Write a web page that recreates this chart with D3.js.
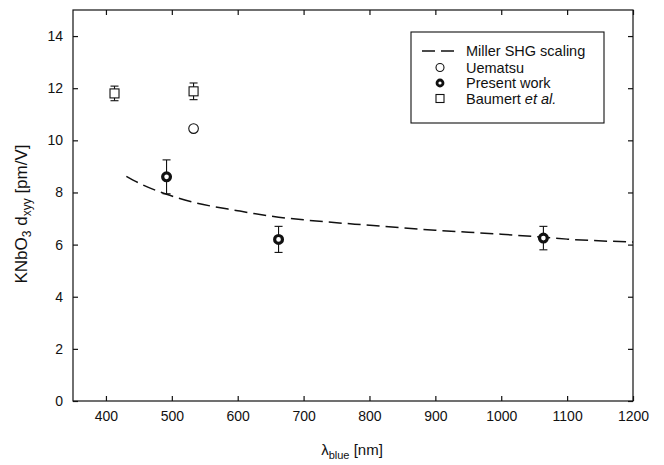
<!DOCTYPE html>
<html>
<head>
<meta charset="utf-8">
<script src="https://cdn.jsdelivr.net/npm/d3@7"></script>
<style>
  html, body { margin: 0; padding: 0; background: #fff; }
  svg { display: block; font-family: "Liberation Sans", Arial, sans-serif; }
</style>
</head>
<body>
<svg id="chart" width="664" height="465"></svg>
<script>
// Wavelength (nm) and d_xyy (pm/V) data
const presentLambda = [492, 662, 1064];
const presentD = [8.6, 6.2, 6.25];
const presentErr = [0.65, 0.5, 0.45];

const uematsuLambda = [533];
const uematsuD = [10.45];

const baumertLambda = [413, 533];
const baumertD = [11.8, 11.88];
const baumertErr = [0.28, 0.32];

// Miller's rule scaling curve
const millerLambda = [431, 450, 492, 532, 600, 662, 700, 800, 900, 1000, 1064, 1100, 1200];
const millerD = [8.62, 8.36, 7.93, 7.63, 7.3, 7.05, 6.95, 6.74, 6.55, 6.4, 6.28, 6.21, 6.1];

const xTicks = [400, 500, 600, 700, 800, 900, 1000, 1100, 1200];
const yTicks = [0, 2, 4, 6, 8, 10, 12, 14];

const svg = d3.select("#chart");
const plotLeft = 73, plotRight = 633, plotTop = 10, plotBottom = 401;

const x = d3.scaleLinear().domain([350, 1200]).range([plotLeft, plotRight]);
const y = d3.scaleLinear().domain([0, 15]).range([plotBottom, plotTop]);

const ink = "#111";

// Frame
svg.append("rect")
  .attr("x", plotLeft).attr("y", plotTop)
  .attr("width", plotRight - plotLeft).attr("height", plotBottom - plotTop)
  .attr("fill", "none").attr("stroke", ink).attr("stroke-width", 1.2);

// Axes with inward ticks, mirrored on top and right
const axB = svg.append("g").attr("transform", `translate(0,${plotBottom})`)
  .call(d3.axisBottom(x).tickValues(xTicks).tickFormat(d3.format("d"))
    .tickSizeInner(-5).tickSizeOuter(0).tickPadding(10));
const axT = svg.append("g").attr("transform", `translate(0,${plotTop})`)
  .call(d3.axisTop(x).tickValues(xTicks).tickSizeInner(-5).tickSizeOuter(0).tickFormat(""));
const axL = svg.append("g").attr("transform", `translate(${plotLeft},0)`)
  .call(d3.axisLeft(y).tickValues(yTicks).tickFormat(d3.format("d"))
    .tickSizeInner(-5).tickSizeOuter(0).tickPadding(10));
const axR = svg.append("g").attr("transform", `translate(${plotRight},0)`)
  .call(d3.axisRight(y).tickValues(yTicks).tickSizeInner(-5).tickSizeOuter(0).tickFormat(""));

[axB, axT, axL, axR].forEach(g => {
  g.select(".domain").remove();
  g.selectAll(".tick line").attr("stroke", ink).attr("stroke-width", 1.2);
  g.selectAll(".tick text").attr("fill", ink).attr("font-size", 14)
    .attr("font-family", "Liberation Sans, Arial, sans-serif");
});

// Miller scaling curve
const line = d3.line().x((d, i) => x(millerLambda[i])).y(d => y(d)).curve(d3.curveMonotoneX);
svg.append("path")
  .datum(millerD)
  .attr("d", line)
  .attr("fill", "none").attr("stroke", ink)
  .attr("stroke-width", 1.5)
  .attr("stroke-dasharray", "13,6");

// Error bars
function errorBars(lams, vals, errs) {
  const g = svg.append("g").attr("stroke", ink).attr("stroke-width", 1.1);
  lams.forEach((l, i) => {
    const cx = x(l), y1 = y(vals[i] + errs[i]), y0 = y(vals[i] - errs[i]);
    g.append("line").attr("x1", cx).attr("x2", cx).attr("y1", y1).attr("y2", y0);
    g.append("line").attr("x1", cx - 4).attr("x2", cx + 4).attr("y1", y1).attr("y2", y1);
    g.append("line").attr("x1", cx - 4).attr("x2", cx + 4).attr("y1", y0).attr("y2", y0);
  });
}
errorBars(baumertLambda, baumertD, baumertErr);
errorBars(presentLambda, presentD, presentErr);

// Baumert et al. squares
svg.append("g").selectAll("rect").data(baumertD).join("rect")
  .attr("x", (d, i) => x(baumertLambda[i]) - 4.5)
  .attr("y", d => y(d) - 4.5)
  .attr("width", 9).attr("height", 9)
  .attr("fill", "#fff").attr("stroke", ink).attr("stroke-width", 1.1);

// Uematsu open circle
svg.append("g").selectAll("circle").data(uematsuD).join("circle")
  .attr("cx", (d, i) => x(uematsuLambda[i]))
  .attr("cy", d => y(d))
  .attr("r", 4.8)
  .attr("fill", "#fff").attr("stroke", ink).attr("stroke-width", 1.1);

// Present work: thick ring
svg.append("g").selectAll("circle").data(presentD).join("circle")
  .attr("cx", (d, i) => x(presentLambda[i]))
  .attr("cy", d => y(d))
  .attr("r", 3.9)
  .attr("fill", "#fff").attr("stroke", ink).attr("stroke-width", 3.2);

// Legend
const lg = svg.append("g");
lg.append("rect").attr("x", 411).attr("y", 32).attr("width", 193).attr("height", 91)
  .attr("fill", "#fff").attr("stroke", ink).attr("stroke-width", 1.1);
const rows = [51, 67.5, 83, 98.5];
lg.append("line").attr("x1", 422).attr("x2", 458).attr("y1", rows[0]).attr("y2", rows[0])
  .attr("stroke", ink).attr("stroke-width", 1.5).attr("stroke-dasharray", "13,6");
lg.append("circle").attr("cx", 440).attr("cy", rows[1]).attr("r", 4)
  .attr("fill", "#fff").attr("stroke", ink).attr("stroke-width", 1.1);
lg.append("circle").attr("cx", 440).attr("cy", rows[2]).attr("r", 3)
  .attr("fill", "#fff").attr("stroke", ink).attr("stroke-width", 2.8);
lg.append("rect").attr("x", 436).attr("y", rows[3] - 4).attr("width", 8).attr("height", 8)
  .attr("fill", "#fff").attr("stroke", ink).attr("stroke-width", 1.1);

const labels = ["Miller SHG scaling", "Uematsu", "Present work"];
labels.forEach((t, i) => {
  lg.append("text").attr("x", 466).attr("y", rows[i] + 5)
    .attr("font-size", 14.5).attr("fill", ink).text(t);
});
const bt = lg.append("text").attr("x", 466).attr("y", rows[3] + 5)
  .attr("font-size", 14.5).attr("fill", ink);
bt.append("tspan").text("Baumert ");
bt.append("tspan").attr("font-style", "italic").text("et al.");

// Axis titles
const xt = svg.append("text").attr("x", 352).attr("y", 455)
  .attr("text-anchor", "middle").attr("font-size", 15).attr("fill", ink);
xt.append("tspan").text("λ");
xt.append("tspan").attr("font-size", 11).attr("dy", 4).text("blue");
xt.append("tspan").attr("dy", -4).text(" [nm]");

const yt = svg.append("text")
  .attr("transform", "translate(27,214) rotate(-90)")
  .attr("text-anchor", "middle").attr("font-size", 17).attr("fill", ink);
yt.append("tspan").text("KNbO");
yt.append("tspan").attr("font-size", 12).attr("dy", 4).text("3");
yt.append("tspan").attr("dy", -4).text(" d");
yt.append("tspan").attr("font-size", 12).attr("dy", 4).text("xyy");
yt.append("tspan").attr("dy", -4).text(" [pm/V]");
</script>
</body>
</html>
